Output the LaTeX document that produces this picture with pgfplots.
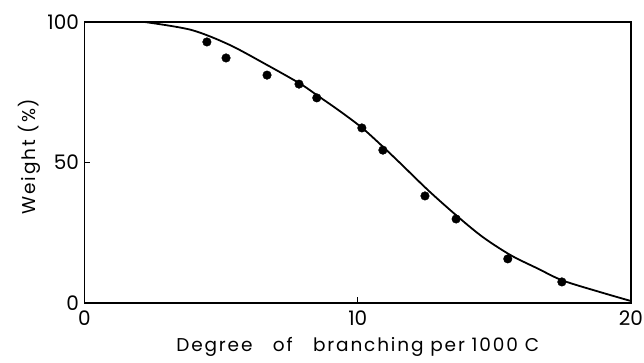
\documentclass[border=0pt]{standalone}
\usepackage{pgfplots}
\pgfplotsset{compat=1.18}
\usepackage{fontspec}
\setmainfont{Poppins}
\newfontfamily\labelfont{Poppins}[LetterSpace=10]
\begin{document}
\fontsize{16}{19}\selectfont
\begin{tikzpicture}
\path[use as bounding box] (-84.5pt,-59pt) rectangle (559.5pt,303pt);
\begin{axis}[
  scale only axis,
  width=546.5pt, height=281pt,
  xmin=0, xmax=20, ymin=0, ymax=100,
  xtick={0,10,20}, ytick={0,50,100},
  xtick pos=bottom, ytick pos=left,
  tick align=inside,
  major tick length=6pt,
  tick style={black, line width=1pt},
  axis line style={line width=1.2pt},
  /pgf/number format/assume math mode=true,
  tick label style={font=\fontsize{20}{22}\selectfont},
  xticklabel style={yshift=-2pt},
  xlabel={Degree\ \ \ of\ \ \ branching per 1000 C},
  ylabel={Weight (\%)},
  xlabel style={yshift=-1pt},
  ylabel style={yshift=-4pt, xshift=6pt},
  label style={font=\labelfont\fontsize{18.5}{20}\selectfont},
  clip=false,
]
\addplot[black, line width=1.8pt, smooth, tension=0.5] coordinates {
(2.2,100) (3.9,97.2) (5.3,91.9) (6.7,84.6) (7.9,78.0) (8.5,74.0) (9.3,68.6)
(10.15,62.4) (10.9,55.8) (11.55,49.8) (12.6,39.9) (13.7,30.4) (14.6,23.3)
(15.6,17.0) (16.6,12.2) (17.5,8.0) (18.9,3.8) (20,0.7)
};
\addplot[only marks, mark=*, mark size=4.3pt, black] coordinates {
(4.48,92.9) (5.18,87.2) (6.68,81.1) (7.85,77.9) (8.50,73.0) (10.15,62.3)
(10.92,54.4) (12.46,38.1) (13.60,29.9) (15.49,15.7) (17.47,7.5)
};
\end{axis}
\end{tikzpicture}
\end{document}
